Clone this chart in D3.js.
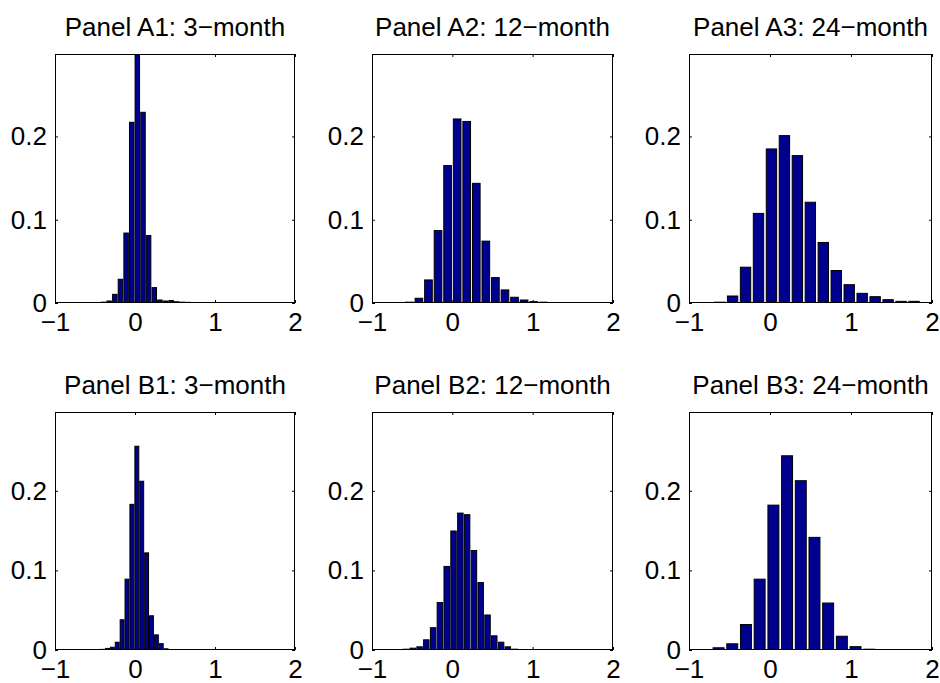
<!DOCTYPE html>
<html><head><meta charset="utf-8">
<script src="https://cdn.jsdelivr.net/npm/d3@7"></script>
<style>body{margin:0;background:#fff}svg{display:block}</style>
</head><body><svg id="c" width="940" height="683"></svg>
<script>
// ---- data ----
const titles = ["Panel A1: 3\u2212month", "Panel A2: 12\u2212month", "Panel A3: 24\u2212month",
                "Panel B1: 3\u2212month", "Panel B2: 12\u2212month", "Panel B3: 24\u2212month"];
const xTicks = [-1, 0, 1, 2];
const xTickLabels = ["\u22121", "0", "1", "2"];
const yTicks = [0, 0.1, 0.2];
const yTickLabels = ["0", "0.1", "0.2"];

const a1Centers = [-0.463, -0.393, -0.323, -0.252, -0.182, -0.111, -0.041, 0.029, 0.100, 0.170, 0.241, 0.311, 0.382, 0.452, 0.522, 0.593, 0.663, 0.734, 0.804, 0.875];
const a1Values  = [0.0005, 0.001, 0.0024, 0.0104, 0.0285, 0.084, 0.217, 0.32, 0.229, 0.081, 0.0185, 0.0036, 0.0024, 0.003, 0.0015, 0.001, 0.0008, 0.0005, 0.0005, 0.0003];

const a2Centers = [-0.535, -0.416, -0.297, -0.178, -0.059, 0.060, 0.179, 0.298, 0.417, 0.536, 0.655, 0.774, 0.893, 1.012, 1.131, 1.250, 1.369, 1.488, 1.607, 1.726];
const a2Values  = [0.001, 0.0057, 0.0277, 0.087, 0.165, 0.221, 0.218, 0.1437, 0.0743, 0.0305, 0.0157, 0.0069, 0.0036, 0.0016, 0.001, 0.0006, 0.0005, 0.0004, 0.0003, 0.0002];

const a3Centers = [-0.622, -0.462, -0.302, -0.142, 0.018, 0.178, 0.338, 0.498, 0.658, 0.818, 0.978, 1.138, 1.298, 1.458, 1.618, 1.778];
const a3Values  = [0.001, 0.0084, 0.043, 0.1076, 0.185, 0.201, 0.177, 0.121, 0.0727, 0.039, 0.022, 0.0116, 0.0076, 0.004, 0.002, 0.002];

const b1Centers = [-0.466, -0.405, -0.344, -0.283, -0.222, -0.161, -0.100, -0.039, 0.023, 0.084, 0.145, 0.206, 0.267, 0.328, 0.389, 0.450, 0.511, 0.572, 0.633];
const b1Values  = [0.0003, 0.0008, 0.002, 0.0035, 0.0098, 0.038, 0.089, 0.183, 0.256, 0.212, 0.122, 0.043, 0.019, 0.008, 0.0015, 0.0006, 0.0003, 0.0002, 0.0002];

const b2Centers = [-0.662, -0.577, -0.493, -0.408, -0.324, -0.239, -0.155, -0.070, 0.015, 0.100, 0.184, 0.269, 0.353, 0.438, 0.522, 0.607, 0.691, 0.776, 0.860, 0.945, 1.029];
const b2Values  = [0.0003, 0.001, 0.0023, 0.004, 0.0128, 0.028, 0.0596, 0.105, 0.1495, 0.172, 0.170, 0.125, 0.0847, 0.044, 0.0178, 0.0098, 0.004, 0.001, 0.0003, 0.0002, 0.0004];

const b3Centers = [-0.635, -0.466, -0.297, -0.128, 0.042, 0.211, 0.380, 0.549, 0.718, 0.887, 1.056, 1.225, 1.394];
const b3Values  = [0.0028, 0.0078, 0.032, 0.089, 0.182, 0.244, 0.2127, 0.1415, 0.059, 0.0173, 0.0042, 0.001, 0.0003];

const centersList = [a1Centers, a2Centers, a3Centers, b1Centers, b2Centers, b3Centers];
const valuesList  = [a1Values, a2Values, a3Values, b1Values, b2Values, b3Values];

// ---- layout ----
const colLeft = [55, 372, 689], colWidth = [240, 241, 243];
const rowTop = [54, 412], rowHeight = [249, 238];
const FONT = "'Liberation Sans', Arial, Helvetica, sans-serif";
const FS = 26;
const barColor = "#00008f";

const svg = d3.select("#c");

titles.forEach((title, i) => {
  const r = Math.floor(i / 3), c = i % 3;
  const w = colWidth[c], h = rowHeight[r];
  const g = svg.append("g").attr("transform", `translate(${colLeft[c]},${rowTop[r]})`);
  const x = d3.scaleLinear().domain([-1, 2]).range([0, w]);
  const y = d3.scaleLinear().domain([0, 0.299]).range([h, 0]);

  const cid = "clip" + i;
  g.append("clipPath").attr("id", cid).append("rect").attr("x", 0).attr("y", 0).attr("width", w).attr("height", h);

  const centers = centersList[i], values = valuesList[i];
  const step = x(centers[1]) - x(centers[0]);
  const bw = step * 0.8;
  const data = centers.map((cv, k) => ({c: cv, v: values[k]}));

  g.append("g").attr("clip-path", `url(#${cid})`)
    .selectAll("rect").data(data).join("rect")
    .attr("x", d => x(d.c) - bw / 2)
    .attr("width", bw)
    .attr("y", d => y(d.v))
    .attr("height", d => h - y(d.v))
    .attr("fill", barColor)
    .attr("stroke", "#000")
    .attr("stroke-width", 1);

  // axes
  const styleAxis = sel => {
    sel.select(".domain").remove();
    sel.selectAll("line").attr("stroke", "#000").attr("stroke-width", 1);
    sel.selectAll("text").attr("fill", "#000").style("font-family", FONT).style("font-size", FS + "px");
  };
  g.append("g").attr("transform", `translate(0,${h})`)
    .call(d3.axisBottom(x).tickValues(xTicks).tickFormat((d, k) => xTickLabels[k]).tickSize(-3).tickSizeOuter(0).tickPadding(9.5))
    .call(styleAxis);
  g.append("g")
    .call(d3.axisTop(x).tickValues(xTicks).tickFormat("").tickSize(-3).tickSizeOuter(0))
    .call(styleAxis);
  g.append("g")
    .call(d3.axisLeft(y).tickValues(yTicks).tickFormat((d, k) => yTickLabels[k]).tickSize(-3).tickSizeOuter(0).tickPadding(8))
    .call(styleAxis);
  g.append("g").attr("transform", `translate(${w},0)`)
    .call(d3.axisRight(y).tickValues(yTicks).tickFormat("").tickSize(-3).tickSizeOuter(0))
    .call(styleAxis);

  g.append("rect").attr("x", 0.5).attr("y", 0.5).attr("width", w - 1).attr("height", h - 1)
    .attr("fill", "none").attr("stroke", "#000").attr("stroke-width", 1);

  g.append("text").attr("x", w / 2).attr("y", -18)
    .attr("text-anchor", "middle")
    .style("font-family", FONT).style("font-size", FS + "px").attr("fill", "#000")
    .text(title);
});
</script>
</body></html>
